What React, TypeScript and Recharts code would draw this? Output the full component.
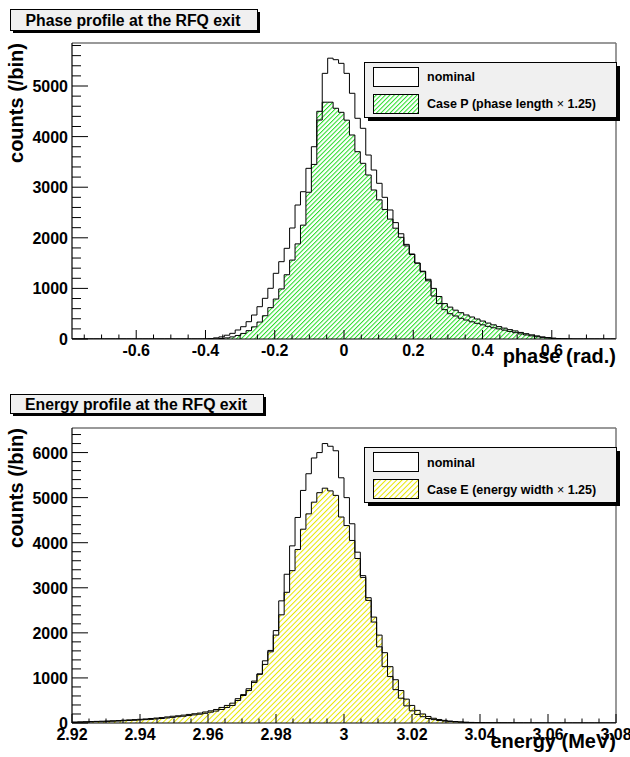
import React from 'react';
import { ComposedChart, Area, XAxis, YAxis, ReferenceLine } from 'recharts';

// ---------- DATA ----------
const PHASE_MIN = -Math.PI / 4;
const PHASE_MAX = Math.PI / 4;
const ENERGY_MIN = 2.92;
const ENERGY_MAX = 3.08;

// counts per bin (100 bins over the x range)
const phaseNominal = [
  0, 0, 0, 0, 0, 0, 0, 0, 0, 0, 0, 0, 0, 0, 0, 0, 0, 0, 0, 0, 0, 0, 0, 0,
  2, 8, 22, 42, 75, 112, 178, 243, 342, 474, 638, 804, 1002, 1298, 1528, 1792,
  2194, 2648, 2911, 3373, 3800, 4328, 5250, 5550, 5520, 5448, 5250, 4856, 4362, 4164, 3636, 3340,
  3077, 2800, 2550, 2300, 2080, 1870, 1680, 1500, 1330, 1150, 850, 700, 580, 500,
  455, 410, 375, 340, 310, 280, 250, 222, 200, 175, 150, 125, 100, 80, 62, 45, 32, 20, 12, 6,
  3, 1, 0, 0, 0, 0, 0, 0, 0, 0,
];
const phaseCaseP = [
  0, 0, 0, 0, 0, 0, 0, 0, 0, 0, 0, 0, 0, 0, 0, 0, 0, 0, 0, 0, 0, 0, 0, 0, 0, 0,
  3, 10, 22, 42, 70, 110, 165, 240, 335, 460, 620, 790, 990, 1270,
  1560, 1880, 2250, 2900, 3450, 4500, 4680, 4680, 4560, 4480, 4325, 4032, 3702, 3472, 3241, 2945,
  2750, 2560, 2370, 2190, 2010, 1840, 1670, 1500, 1340, 1180, 1000, 840, 700, 630,
  570, 520, 475, 435, 395, 355, 315, 280, 245, 215, 185, 160, 130, 105, 82, 62, 42, 28, 17, 9,
  5, 2, 0, 0, 0, 0, 0, 0, 0, 0,
];
const energyNominal = [
  15, 18, 22, 25, 30, 28, 35, 38, 42, 50, 55, 60, 68, 75, 80, 92, 100, 112, 125, 140,
  150, 165, 180, 195, 215, 240, 265, 300, 345, 390, 500, 610, 720, 930, 1090, 1380, 1610, 2050, 2710, 3300,
  3930, 4560, 5160, 5530, 5880, 6000, 6200, 6140, 6040, 5440, 5000, 4420, 3790, 3270, 2720, 2240,
  1690, 1250, 1030, 740, 550, 380, 270, 190, 140, 100, 75, 55, 42, 32,
  24, 18, 12, 9, 7, 5, 4, 3, 3, 2, 2, 1, 1, 1, 1, 1, 0, 0, 0, 0,
  0, 0, 0, 0, 0, 0, 0, 0, 0, 0,
];
const energyCaseE = [
  20, 25, 28, 32, 36, 40, 45, 50, 55, 62, 70, 75, 82, 90, 100, 110, 120, 135, 150, 160,
  175, 190, 205, 220, 245, 270, 300, 345, 390, 440, 540, 630, 760, 900, 1080, 1300, 1580, 1950, 2400, 2900,
  3380, 3850, 4300, 4640, 4900, 5110, 5210, 5150, 5050, 4570, 4380, 4050, 3650, 3230, 2780, 2350,
  1950, 1560, 1250, 960, 720, 530, 390, 280, 200, 145, 105, 78, 58, 44,
  33, 25, 18, 13, 10, 8, 6, 5, 4, 3, 3, 2, 2, 1, 1, 1, 0, 0, 0, 0,
  0, 0, 0, 0, 0, 0, 0, 0, 0, 0,
];

const phaseMajorTicks = [-0.6, -0.4, -0.2, 0, 0.2, 0.4, 0.6];
const phaseTickLabels = ['-0.6', '-0.4', '-0.2', '0', '0.2', '0.4', '0.6'];
const energyMajorTicks = [2.92, 2.94, 2.96, 2.98, 3.0, 3.02, 3.04, 3.06, 3.08];
const energyTickLabels = ['2.92', '2.94', '2.96', '2.98', '3', '3.02', '3.04', '3.06', '3.08'];
const phaseCountTicks = [0, 1000, 2000, 3000, 4000, 5000];
const phaseCountLabels = ['0', '1000', '2000', '3000', '4000', '5000'];
const energyCountTicks = [0, 1000, 2000, 3000, 4000, 5000, 6000];
const energyCountLabels = ['0', '1000', '2000', '3000', '4000', '5000', '6000'];

const PHASE_YMAX = 5850;
const ENERGY_YMAX = 6545;

// ---------- helpers ----------
const FONT = '"Liberation Sans", Arial, Helvetica, sans-serif';

function buildHist(min: number, max: number, a: number[], b: number[]) {
  const n = a.length;
  const w = (max - min) / n;
  const rows: { x: number; a: number; b: number }[] = [];
  for (let i = 0; i <= n; i++) {
    rows.push({ x: min + i * w, a: i < n ? a[i] : a[n - 1], b: i < n ? b[i] : b[n - 1] });
  }
  return rows;
}

function stepList(from: number, to: number, step: number) {
  const out: number[] = [];
  const n = Math.round((to - from) / step);
  for (let k = 0; k <= n; k++) out.push(Math.round((from + k * step) * 1e6) / 1e6);
  return out;
}

const phaseData = buildHist(PHASE_MIN, PHASE_MAX, phaseNominal, phaseCaseP);
const energyData = buildHist(ENERGY_MIN, ENERGY_MAX, energyNominal, energyCaseE);

type ChartProps = {
  top: number;
  height: number;
  plotH: number;
  data: { x: number; a: number; b: number }[];
  xMin: number;
  xMax: number;
  yMax: number;
  xMajors: number[];
  xLabels: string[];
  xMinors: number[];
  yMajors: number[];
  yLabels: string[];
  yMinors: number[];
  patternId: string;
  hatchColor: string;
  hatchSize: number;
};

function HistChart(p: ChartProps) {
  const findIdx = (arr: number[], v: number) => arr.findIndex((m) => Math.abs(m - v) < 1e-6);
  const xTicks = Array.from(new Set([...p.xMinors, ...p.xMajors])).sort((a, b) => a - b);
  const yTicks = Array.from(new Set([...p.yMinors, ...p.yMajors])).sort((a, b) => a - b);

  const renderXTick = (t: any) => {
    const v = t.payload.value;
    const idx = findIdx(p.xMajors, v);
    const major = idx >= 0;
    return (
      <g key={`xt-${v}`}>
        <line x1={t.x} x2={t.x} y1={t.y} y2={t.y - (major ? 9 : 4.5)} stroke="#000" strokeWidth={1} />
        {major && (
          <text x={t.x} y={t.y + 16.5} textAnchor="middle" fontFamily={FONT} fontWeight="bold" fontSize={16} fill="#000">
            {p.xLabels[idx]}
          </text>
        )}
      </g>
    );
  };
  const renderYTick = (t: any) => {
    const v = t.payload.value;
    const idx = findIdx(p.yMajors, v);
    const major = idx >= 0;
    return (
      <g key={`yt-${v}`}>
        <line x1={t.x} x2={t.x + (major ? 16 : 9)} y1={t.y} y2={t.y} stroke="#000" strokeWidth={1} />
        {major && (
          <text x={t.x - 4} y={t.y + 6} textAnchor="end" fontFamily={FONT} fontWeight="bold" fontSize={16} fill="#000">
            {p.yLabels[idx]}
          </text>
        )}
      </g>
    );
  };

  return (
    <div style={{ position: 'absolute', left: 0, top: p.top, width: 630, height: p.height }}>
      <ComposedChart
        width={630}
        height={p.height}
        data={p.data}
        margin={{ top: 43, right: 14, left: 71, bottom: p.height - 43 - p.plotH - 1 }}
      >
        <defs>
          <pattern
            id={p.patternId}
            width={p.hatchSize}
            height={p.hatchSize}
            patternUnits="userSpaceOnUse"
            patternTransform="rotate(45)"
          >
            <rect x={0} y={0} width={p.hatchSize} height={p.hatchSize} fill="#ffffff" />
            <line x1={0.5} y1={0} x2={0.5} y2={p.hatchSize} stroke={p.hatchColor} strokeWidth={1} />
          </pattern>
        </defs>
        <XAxis
          dataKey="x"
          type="number"
          domain={[p.xMin, p.xMax]}
          allowDataOverflow
          ticks={xTicks}
          interval={0}
          height={1}
          tickSize={0}
          tickMargin={0}
          tickLine={false}
          axisLine={{ stroke: '#000', strokeWidth: 1.2 }}
          tick={renderXTick}
        />
        <YAxis
          type="number"
          domain={[0, p.yMax]}
          allowDataOverflow
          ticks={yTicks}
          interval={0}
          width={1}
          tickSize={0}
          tickMargin={0}
          tickLine={false}
          axisLine={{ stroke: '#000', strokeWidth: 1.2 }}
          tick={renderYTick}
        />
        <Area
          type="stepAfter"
          dataKey="b"
          stroke="#000"
          strokeWidth={1}
          fill={`url(#${p.patternId})`}
          fillOpacity={1}
          isAnimationActive={false}
          dot={false}
          activeDot={false}
        />
        <Area
          type="stepAfter"
          dataKey="a"
          stroke="#000"
          strokeWidth={1}
          fill="none"
          fillOpacity={0}
          isAnimationActive={false}
          dot={false}
          activeDot={false}
        />
        <ReferenceLine y={p.yMax} stroke="#777" strokeWidth={1.5} />
        <ReferenceLine x={p.xMax} stroke="#777" strokeWidth={1.5} />
      </ComposedChart>
    </div>
  );
}

function Overlay() {
  const txt = { fontFamily: FONT, fontWeight: 'bold' as const, fill: '#000' };
  return (
    <svg width={630} height={757} style={{ position: 'absolute', left: 0, top: 0, pointerEvents: 'none' }}>
      <defs>
        <pattern id="legGreen" width={3.2} height={3.2} patternUnits="userSpaceOnUse" patternTransform="rotate(45)">
          <rect width={3.2} height={3.2} fill="#ffffff" />
          <line x1={0.5} y1={0} x2={0.5} y2={3.2} stroke="#22dd22" strokeWidth={1} />
        </pattern>
        <pattern id="legYellow" width={3.8} height={3.8} patternUnits="userSpaceOnUse" patternTransform="rotate(45)">
          <rect width={3.8} height={3.8} fill="#ffffff" />
          <line x1={0.5} y1={0} x2={0.5} y2={3.8} stroke="#e6e600" strokeWidth={1} />
        </pattern>
      </defs>

      {/* titles */}
      <rect x={13} y={12} width={247} height={21} fill="#000" />
      <rect x={10.5} y={9.5} width={247} height={21} fill="#f0f0f0" stroke="#000" strokeWidth={1} />
      <text x={133} y={25.5} textAnchor="middle" fontSize={15.8} {...txt}>Phase profile at the RFQ exit</text>

      <rect x={13} y={397} width={253} height={19} fill="#000" />
      <rect x={10.5} y={394.5} width={253} height={19} fill="#f0f0f0" stroke="#000" strokeWidth={1} />
      <text x={136} y={409.5} textAnchor="middle" fontSize={15.8} {...txt}>Energy profile at the RFQ exit</text>

      {/* legend 1 */}
      <rect x={368} y={66} width={252} height={55} fill="#000" />
      <rect x={364.5} y={62.5} width={252} height={55} fill="#f0f0f0" stroke="#000" strokeWidth={1} />
      <rect x={373.5} y={67.5} width={45} height={19} fill="#ffffff" stroke="#000" strokeWidth={1} />
      <text x={427} y={81} fontSize={12.5} {...txt}>nominal</text>
      <rect x={373.5} y={94.5} width={45} height={19} fill="url(#legGreen)" stroke="#000" strokeWidth={1} />
      <text x={427} y={108} fontSize={12.5} {...txt}>
        Case P (phase length<tspan fontWeight="normal"> × </tspan>1.25)
      </text>

      {/* legend 2 */}
      <rect x={368} y={451} width={252} height={55} fill="#000" />
      <rect x={364.5} y={447.5} width={252} height={55} fill="#f0f0f0" stroke="#000" strokeWidth={1} />
      <rect x={373.5} y={452.5} width={45} height={19} fill="#ffffff" stroke="#000" strokeWidth={1} />
      <text x={427} y={466.5} fontSize={12.5} {...txt}>nominal</text>
      <rect x={373.5} y={479.5} width={45} height={19} fill="url(#legYellow)" stroke="#000" strokeWidth={1} />
      <text x={427} y={493.5} fontSize={12.5} {...txt}>
        Case E (energy width<tspan fontWeight="normal"> × </tspan>1.25)
      </text>

      {/* axis titles */}
      <text transform="translate(23,43) rotate(-90)" textAnchor="end" fontSize={20} {...txt}>counts (/bin)</text>
      <text transform="translate(23,428) rotate(-90)" textAnchor="end" fontSize={20} {...txt}>counts (/bin)</text>
      <text x={616} y={363} textAnchor="end" fontSize={20} {...txt}>phase (rad.)</text>
      <text x={616} y={748} textAnchor="end" fontSize={20} {...txt}>energy (MeV)</text>
    </svg>
  );
}

export default function App() {
  return (
    <div style={{ position: 'absolute', left: 0, top: 0, width: 630, height: 757, background: '#fff', overflow: 'hidden' }}>
      <HistChart
        top={0}
        height={385}
        plotH={296}
        data={phaseData}
        xMin={PHASE_MIN}
        xMax={PHASE_MAX}
        yMax={PHASE_YMAX}
        xMajors={phaseMajorTicks}
        xLabels={phaseTickLabels}
        xMinors={stepList(-0.75, 0.75, 0.05)}
        yMajors={phaseCountTicks}
        yLabels={phaseCountLabels}
        yMinors={stepList(0, 5800, 200)}
        patternId="hatchGreen"
        hatchColor="#22dd22"
        hatchSize={3.2}
      />
      <HistChart
        top={385}
        height={372}
        plotH={295}
        data={energyData}
        xMin={ENERGY_MIN}
        xMax={ENERGY_MAX}
        yMax={ENERGY_YMAX}
        xMajors={energyMajorTicks}
        xLabels={energyTickLabels}
        xMinors={stepList(2.92, 3.08, 0.005)}
        yMajors={energyCountTicks}
        yLabels={energyCountLabels}
        yMinors={stepList(0, 6400, 200)}
        patternId="hatchYellow"
        hatchColor="#e6e600"
        hatchSize={3.8}
      />
      <Overlay />
    </div>
  );
}
